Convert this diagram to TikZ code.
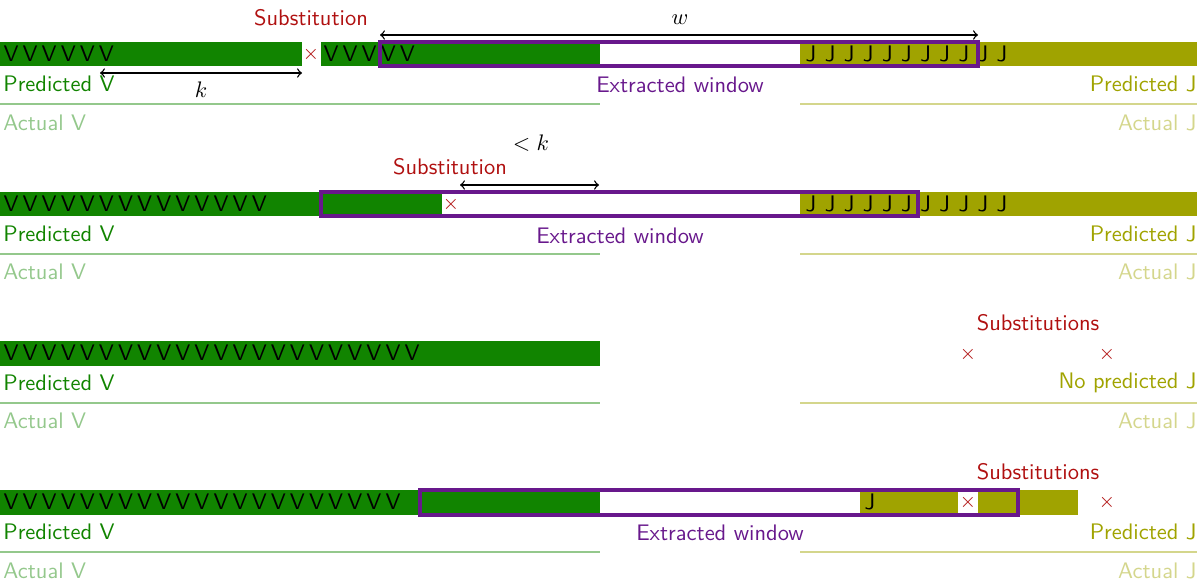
\documentclass[tikz,border=0pt]{standalone}
\usepackage{tikz}
\usetikzlibrary{positioning, calc}
\renewcommand{\familydefault}{\sfdefault}
\definecolor{vgreen}{RGB}{17,132,0}
\definecolor{jolive}{RGB}{160,163,0}
\definecolor{winpurple}{RGB}{104,24,140}
\definecolor{subred}{RGB}{176,16,16}
\newcommand{\resseq}[2]{\foreach \n in {1,...,#1}{\makebox[8.5pt]{#2}}}
\tikzset{
    vbar/.style={fill=vgreen},
    jbar/.style={fill=jolive},
    window/.style={
        draw=winpurple,
        line width=1.6pt,
    },
    span/.style={<->, line width=0.6pt},
    seqtext/.style={anchor=west, inner sep=0pt, text=black},
    predV/.style={anchor=west, inner sep=0pt, text=vgreen},
    predJ/.style={anchor=east, inner sep=0pt, text=jolive},
    actV/.style={anchor=west, inner sep=0pt, text=vgreen!45},
    actJ/.style={anchor=east, inner sep=0pt, text=jolive!45},
    vline/.style={draw=vgreen!45, line width=1.2pt},
    jline/.style={draw=jolive!45, line width=1.2pt},
    winlabel/.style={inner sep=0pt, text=winpurple},
    sublabel/.style={inner sep=0pt, text=subred},
    cross/.style={inner sep=0pt, text=subred, font=\small},
}
\begin{document}
\begin{tikzpicture}[x=0.445pt, y=-0.445pt, >=to]
    \useasboundingbox (0,0) rectangle (1200,587);

    % one substitution, window ending inside J
    \begin{scope}
        \fill[vbar] (0,42) rectangle (302,66);
        \fill[vbar] (321,42) rectangle (600,66);
        \fill[jbar] (800,42) rectangle (1197,66);
        \node[seqtext] (seq1v) at (1,54) {\resseq{6}{V}};
        \node[seqtext] (seq1w) at (321,54) {\resseq{5}{V}};
        \node[seqtext] (seq1j) at (801,54) {\resseq{11}{J}};
        \draw[window] (380,42) rectangle (978,66);
        \node[cross] (sub1x) at (311,54) {$\times$};
        \node[sublabel] (sub1) at (311,18) {Substitution};
        \coordinate (w-left) at (380,35);
        \coordinate (w-right) at (978,35);
        \draw[span] (w-left) -- (w-right);
        \node (w-lab) at (680,20) {$w$};
        \coordinate (k-left) at (100,73);
        \coordinate (k-right) at (302,73);
        \draw[span] (k-left) -- (k-right);
        \node (k-lab) at (201,90) {$k$};
        \node[predV] (pv1) at (3,84) {Predicted V};
        \node[winlabel] (win1) at (680,85) {Extracted window};
        \node[predJ] (pj1) at (1197,84) {Predicted J};
        \draw[vline] (0,104) -- (600,104);
        \draw[jline] (800,104) -- (1197,104);
        \node[actV] (av1) at (3,123) {Actual V};
        \node[actJ] (aj1) at (1197,123) {Actual J};
    \end{scope}

    % substitution closer than k to the boundary
    \begin{scope}[shift={(0,150)}]
        \fill[vbar] (0,42) rectangle (442,66);
        \fill[jbar] (800,42) rectangle (1197,66);
        \node[seqtext] (seq2v) at (1,54) {\resseq{14}{V}};
        \node[seqtext] (seq2j) at (801,54) {\resseq{11}{J}};
        \draw[window] (321,42) rectangle (918,66);
        \node[cross] (sub2x) at (451,54) {$\times$};
        \node[sublabel] (sub2) at (450,17) {Substitution};
        \coordinate (lk-left) at (460,35);
        \coordinate (lk-right) at (599,35);
        \draw[span] (lk-left) -- (lk-right);
        \node (lk-lab) at (531,-7) {$<k$};
        \node[predV] (pv2) at (3,84) {Predicted V};
        \node[winlabel] (win2) at (620,86) {Extracted window};
        \node[predJ] (pj2) at (1197,84) {Predicted J};
        \draw[vline] (0,104) -- (600,104);
        \draw[jline] (800,104) -- (1197,104);
        \node[actV] (av2) at (3,122) {Actual V};
        \node[actJ] (aj2) at (1197,122) {Actual J};
    \end{scope}

    % no J predicted
    \begin{scope}[shift={(0,299)}]
        \fill[vbar] (0,42) rectangle (600,67);
        \node[seqtext] (seq3v) at (1,54) {\resseq{22}{V}};
        \node[cross] (sub3x) at (968,55) {$\times$};
        \node[cross] (sub3y) at (1107,55) {$\times$};
        \node[sublabel] (sub3) at (1038,24) {Substitutions};
        \node[predV] (pv3) at (3,84) {Predicted V};
        \node[predJ] (pj3) at (1197,84) {No predicted J};
        \draw[vline] (0,104) -- (600,104);
        \draw[jline] (800,104) -- (1197,104);
        \node[actV] (av3) at (3,122) {Actual V};
        \node[actJ] (aj3) at (1197,122) {Actual J};
    \end{scope}

    % J predicted late
    \begin{scope}[shift={(0,448)}]
        \fill[vbar] (0,42) rectangle (600,67);
        \fill[jbar] (860,42) rectangle (958,67);
        \fill[jbar] (978,42) rectangle (1078,67);
        \node[seqtext] (seq4v) at (1,54) {\resseq{21}{V}};
        \node[seqtext] (seq4j) at (860,54) {\resseq{1}{J}};
        \draw[window] (420,42) rectangle (1018,67);
        \node[cross] (sub4x) at (968,54) {$\times$};
        \node[cross] (sub4y) at (1107,54) {$\times$};
        \node[sublabel] (sub4) at (1038,24) {Substitutions};
        \node[predV] (pv4) at (3,84) {Predicted V};
        \node[winlabel] (win4) at (720,85) {Extracted window};
        \node[predJ] (pj4) at (1197,84) {Predicted J};
        \draw[vline] (0,104) -- (600,104);
        \draw[jline] (800,104) -- (1197,104);
        \node[actV] (av4) at (3,123) {Actual V};
        \node[actJ] (aj4) at (1197,123) {Actual J};
    \end{scope}
\end{tikzpicture}
\end{document}
